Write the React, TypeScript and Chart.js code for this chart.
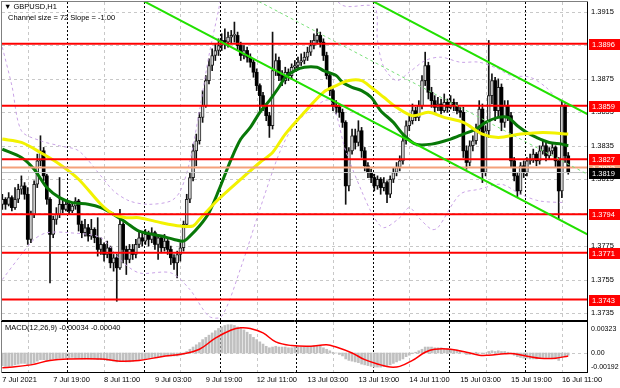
import React, { useEffect, useRef } from "react";
import { Chart, registerables } from "chart.js";
Chart.register(...registerables);

// ---------- DATA (GBPUSD H1, 7 Jul 03:00 .. 16 Jul 13:00) ----------
const openPrices = [
  1.3800,1.3803,1.3800,1.3804,1.3798,1.3803,1.3809,1.3811,1.3806,1.3779,
  1.3794,1.3812,1.3826,1.3832,1.3817,1.3803,1.3782,1.3791,1.3794,1.3800,
  1.3797,1.3800,1.3796,1.3799,1.3802,1.3788,1.3783,1.3786,1.3781,1.3785,
  1.3780,1.3773,1.3776,1.3770,1.3774,1.3765,1.3768,1.3762,1.3788,1.3773,
  1.3767,1.3773,1.3770,1.3776,1.3780,1.3778,1.3782,1.3779,1.3783,1.3776,
  1.3780,1.3774,1.3778,1.3773,1.3768,1.3765,1.3770,1.3774,1.3788,1.3803,
  1.3816,1.3832,1.3838,1.3852,1.3859,1.3874,1.3883,1.3889,1.3892,1.3895,
  1.3898,1.3897,1.3900,1.3901,1.3901,1.3895,1.3889,1.3892,1.3888,1.3885,
  1.3879,1.3871,1.3865,1.3859,1.3853,1.3847,1.3880,1.3886,1.3877,1.3874,
  1.3879,1.3877,1.3882,1.3883,1.3885,1.3886,1.3888,1.3891,1.3895,1.3898,
  1.3901,1.3897,1.3889,1.3877,1.3868,1.3859,1.3858,1.3855,1.3849,1.3811,
  1.3832,1.3841,1.3837,1.3844,1.3832,1.3823,1.3819,1.3816,1.3811,1.3815,
  1.3810,1.3813,1.3806,1.3815,1.3819,1.3822,1.3826,1.3838,1.3847,1.3850,
  1.3856,1.3852,1.3859,1.3874,1.3883,1.3867,1.3862,1.3858,1.3860,1.3856,
  1.3861,1.3858,1.3861,1.3859,1.3856,1.3855,1.3832,1.3825,1.3835,1.3838,
  1.3845,1.3857,1.3819,1.3844,1.3865,1.3874,1.3856,1.3870,1.3849,1.3859,
  1.3853,1.3826,1.3817,1.3808,1.3823,1.3819,1.3826,1.3827,1.3830,1.3826,
  1.3832,1.3835,1.3829,1.3832,1.3834,1.3826,1.3808,1.3859,1.3829,
];
const highPrices = [
  1.3806,1.3804,1.3807,1.3805,1.3810,1.3812,1.3817,1.3813,1.3810,1.3796,
  1.3814,1.3830,1.3841,1.3834,1.3818,1.3804,1.3793,1.3798,1.3816,1.3803,
  1.3802,1.3801,1.3801,1.3804,1.3803,1.3790,1.3791,1.3788,1.3791,1.3786,
  1.3792,1.3780,1.3777,1.3778,1.3775,1.3770,1.3770,1.3797,1.3789,1.3775,
  1.3776,1.3776,1.3779,1.3784,1.3783,1.3785,1.3784,1.3786,1.3784,1.3782,
  1.3781,1.3782,1.3779,1.3775,1.3770,1.3772,1.3777,1.3790,1.3806,1.3819,
  1.3836,1.3842,1.3855,1.3868,1.3877,1.3887,1.3893,1.3896,1.3899,1.3902,
  1.3905,1.3903,1.3904,1.3909,1.3903,1.3897,1.3895,1.3894,1.3890,1.3887,
  1.3881,1.3872,1.3867,1.3860,1.3855,1.3903,1.3890,1.3888,1.3880,1.3882,
  1.3881,1.3884,1.3886,1.3888,1.3890,1.3891,1.3894,1.3898,1.3902,1.3905,
  1.3903,1.3899,1.3891,1.3879,1.3869,1.3862,1.3860,1.3857,1.3850,1.3834,
  1.3845,1.3845,1.3850,1.3846,1.3834,1.3825,1.3821,1.3818,1.3817,1.3816,
  1.3816,1.3814,1.3817,1.3822,1.3825,1.3829,1.3841,1.3850,1.3853,1.3860,
  1.3858,1.3862,1.3877,1.3891,1.3885,1.3870,1.3865,1.3864,1.3863,1.3866,
  1.3863,1.3865,1.3863,1.3861,1.3858,1.3858,1.3835,1.3838,1.3841,1.3848,
  1.3862,1.3860,1.3847,1.3898,1.3878,1.3876,1.3875,1.3872,1.3862,1.3862,
  1.3855,1.3828,1.3819,1.3825,1.3826,1.3828,1.3830,1.3833,1.3831,1.3835,
  1.3838,1.3837,1.3834,1.3837,1.3835,1.3828,1.3862,1.3861,1.3831,
];
const lowPrices = [
  1.3797,1.3797,1.3799,1.3796,1.3797,1.3801,1.3806,1.3803,1.3776,1.3777,
  1.3792,1.3810,1.3823,1.3814,1.3800,1.3753,1.3780,1.3788,1.3792,1.3795,
  1.3796,1.3794,1.3795,1.3797,1.3784,1.3780,1.3781,1.3778,1.3779,1.3777,
  1.3769,1.3770,1.3766,1.3768,1.3762,1.3760,1.3742,1.3761,1.3765,1.3758,
  1.3765,1.3767,1.3768,1.3774,1.3775,1.3776,1.3775,1.3777,1.3773,1.3767,
  1.3771,1.3772,1.3770,1.3764,1.3761,1.3756,1.3766,1.3772,1.3786,1.3801,
  1.3814,1.3823,1.3836,1.3849,1.3858,1.3872,1.3880,1.3886,1.3889,1.3892,
  1.3893,1.3894,1.3896,1.3897,1.3892,1.3886,1.3887,1.3885,1.3882,1.3876,
  1.3868,1.3856,1.3856,1.3850,1.3840,1.3845,1.3877,1.3874,1.3871,1.3872,
  1.3874,1.3875,1.3880,1.3881,1.3883,1.3884,1.3886,1.3889,1.3893,1.3896,
  1.3894,1.3886,1.3875,1.3865,1.3856,1.3854,1.3852,1.3846,1.3800,1.3808,
  1.3830,1.3833,1.3835,1.3828,1.3820,1.3816,1.3813,1.3808,1.3809,1.3806,
  1.3808,1.3801,1.3804,1.3813,1.3817,1.3820,1.3824,1.3836,1.3844,1.3848,
  1.3850,1.3850,1.3857,1.3871,1.3863,1.3858,1.3855,1.3856,1.3854,1.3855,
  1.3855,1.3857,1.3856,1.3854,1.3852,1.3828,1.3821,1.3823,1.3832,1.3836,
  1.3843,1.3813,1.3817,1.3840,1.3860,1.3850,1.3852,1.3844,1.3846,1.3850,
  1.3822,1.3814,1.3804,1.3806,1.3816,1.3817,1.3824,1.3825,1.3823,1.3824,
  1.3830,1.3826,1.3827,1.3830,1.3822,1.3791,1.3804,1.3825,1.3818,
];
const closePrices = [
  1.3803,1.3800,1.3804,1.3798,1.3803,1.3809,1.3811,1.3806,1.3779,1.3794,
  1.3812,1.3826,1.3832,1.3817,1.3803,1.3782,1.3791,1.3794,1.3800,1.3797,
  1.3800,1.3796,1.3799,1.3802,1.3788,1.3783,1.3786,1.3781,1.3785,1.3780,
  1.3773,1.3776,1.3770,1.3774,1.3765,1.3768,1.3762,1.3788,1.3773,1.3767,
  1.3773,1.3770,1.3776,1.3780,1.3778,1.3782,1.3779,1.3783,1.3776,1.3780,
  1.3774,1.3778,1.3773,1.3768,1.3765,1.3770,1.3774,1.3788,1.3803,1.3816,
  1.3832,1.3838,1.3852,1.3859,1.3874,1.3883,1.3889,1.3892,1.3895,1.3898,
  1.3897,1.3900,1.3901,1.3901,1.3895,1.3889,1.3892,1.3888,1.3885,1.3879,
  1.3871,1.3865,1.3859,1.3853,1.3847,1.3880,1.3886,1.3877,1.3874,1.3879,
  1.3877,1.3882,1.3883,1.3885,1.3886,1.3888,1.3891,1.3895,1.3898,1.3901,
  1.3897,1.3889,1.3877,1.3868,1.3859,1.3858,1.3855,1.3849,1.3811,1.3832,
  1.3841,1.3837,1.3844,1.3832,1.3823,1.3819,1.3816,1.3811,1.3815,1.3810,
  1.3813,1.3806,1.3815,1.3819,1.3822,1.3826,1.3838,1.3847,1.3850,1.3856,
  1.3852,1.3859,1.3874,1.3883,1.3867,1.3862,1.3858,1.3860,1.3856,1.3861,
  1.3858,1.3861,1.3859,1.3856,1.3855,1.3832,1.3825,1.3835,1.3838,1.3845,
  1.3857,1.3819,1.3844,1.3865,1.3874,1.3856,1.3870,1.3849,1.3859,1.3853,
  1.3826,1.3817,1.3808,1.3823,1.3819,1.3826,1.3827,1.3830,1.3826,1.3832,
  1.3835,1.3829,1.3832,1.3834,1.3826,1.3808,1.3859,1.3829,1.3819,
];

// moving averages, sampled (bar index, price)
const maSlowBars = [0,6,12,18,24,31,35,39,43,50,56,60,62,68,75,81,85,89,95,101,105,109,113,116,120,124,129,134,139,145,151,156,163,170,178];
const maSlowValues = [1.3839,1.3837,1.3831,1.3824,1.3815,1.3800,1.3794,1.3792,1.3792,1.3789,1.3787,1.3787,1.3791,1.3803,1.3815,1.3825,1.3831,1.3842,1.3855,1.3867,1.3871,1.3874,1.3874,1.3870,1.3864,1.3858,1.3853,1.3855,1.3852,1.3849,1.3842,1.3840,1.3842,1.3843,1.3842];
const maFastBars = [0,6,10,14,18,22,27,31,35,39,43,50,54,57,59,62,65,68,72,75,78,81,84,87,89,92,95,99,101,105,107,110,113,116,119,123,126,130,135,141,145,149,152,156,159,162,165,168,172,176,178];
const maFastValues = [1.3833,1.3828,1.3821,1.3810,1.3804,1.3801,1.3800,1.3798,1.3794,1.3789,1.3784,1.3781,1.3779,1.3778,1.3781,1.3787,1.3795,1.3808,1.3827,1.3839,1.3846,1.3855,1.3862,1.3870,1.3876,1.3880,1.3882,1.3882,1.3880,1.3877,1.3873,1.3870,1.3868,1.3864,1.3856,1.3849,1.3842,1.3836,1.3836,1.3839,1.3842,1.3845,1.3849,1.3852,1.3852,1.3847,1.3843,1.3840,1.3837,1.3836,1.3835];

// bands (bar index, price)
const bandUpperBars = [0,3,6,12,18,24,31,35,40,46,53,56,59,62,65,68,70,76,90,100,107,117,118,120,124,128,133,138,144,150,156,160,166,171,175,178];
const bandUpperValues = [1.3894,1.3871,1.3844,1.3838,1.3835,1.3832,1.3817,1.3808,1.3802,1.3800,1.3802,1.3808,1.3826,1.3856,1.3889,1.3916,1.3934,1.3950,1.3945,1.3935,1.3919,1.3918,1.3898,1.3882,1.3874,1.3879,1.3886,1.3888,1.3885,1.3885,1.3881,1.3877,1.3876,1.3870,1.3862,1.3859];
const bandLowerBars = [0,6,10,14,21,31,37,43,53,59,65,69,75,81,87,91,96,103,108,113,117,120,125,128,131,135,137,144,150,157,163,169,177];
const bandLowerValues = [1.3755,1.3770,1.3779,1.3783,1.3783,1.3780,1.3767,1.3759,1.3759,1.3749,1.3733,1.3733,1.3762,1.3797,1.3830,1.3845,1.3855,1.3862,1.3832,1.3808,1.3792,1.3786,1.3792,1.3798,1.3792,1.3785,1.3786,1.3806,1.3809,1.3812,1.3806,1.3802,1.3801];

// regression channel (bar index, price) : size 72, slope -1.00
const channelUpper = [[110, 1.3928], [184, 1.3854]];
const channelMiddle = [[74, 1.3928], [184, 1.3818]];
const channelLower = [[38, 1.3928], [184, 1.3782]];

// horizontal levels
const levelValues = [1.3896, 1.3859, 1.3827, 1.3794, 1.3771, 1.3743];
const pendingLevel = 1.3822;
const currentPrice = 1.3819;

// MACD
const macdHist = [
  -0.0017,-0.0018,-0.0018,-0.0017,-0.0016,-0.0015,-0.0014,-0.0014,-0.0016,-0.0015,-0.0013,-0.0011,
  -0.0009,-0.0009,-0.0010,-0.0010,
  -0.0008,-0.0008,-0.0007,-0.0007,-0.0007,-0.0007,-0.0006,-0.0007,-0.0007,-0.0008,-0.0008,-0.0008,-0.0008,-0.0008,-0.0009,-0.0009,-0.0009,-0.0010,-0.0010,
  -0.0011,-0.0012,-0.0011,-0.0011,-0.0012,-0.0012,-0.0011,-0.0010,-0.0009,
  -0.0008,-0.0008,-0.0007,-0.0006,-0.0006,-0.0005,
  -0.0005,-0.0004,-0.0004,-0.0004,-0.0004,-0.0004,-0.0003,-0.0002,
  0.0002,0.0005,0.0008,0.0011,0.0014,
  0.0018,0.0021,0.0024,0.0027,0.0030,
  0.0033,0.0035,0.0037,0.0038,0.0038,0.0037,
  0.0035,0.0033,0.0031,
  0.0028,0.0025,0.0021,0.0018,0.0015,
  0.0012,0.0009,0.0007,0.0008,
  0.0009,0.0008,0.0008,0.0008,0.0007,0.0007,0.0008,0.0008,0.0008,0.0008,0.0009,
  0.0009,0.0010,0.0010,0.0009,0.0007,0.0005,0.0003,
  0.0001,0.0000,-0.0002,-0.0004,
  -0.0008,-0.0010,-0.0011,-0.0012,-0.0013,
  -0.0015,-0.0016,-0.0017,-0.0018,-0.0019,-0.0019,
  -0.0019,-0.0018,-0.0017,-0.0016,-0.0014,
  -0.0012,-0.0010,-0.0008,
  -0.0005,-0.0003,-0.0001,
  0.0001,0.0003,0.0005,
  0.0008,0.0008,0.0008,0.0007,0.0007,0.0007,0.0006,0.0006,
  0.0005,0.0004,0.0004,
  0.0003,0.0000,-0.0002,-0.0002,-0.0001,0.0001,0.0000,
  -0.0001,0.0000,0.0002,0.0003,0.0002,0.0003,0.0002,
  0.0002,0.0001,-0.0001,-0.0003,-0.0005,
  -0.0006,-0.0007,-0.0007,-0.0008,-0.0008,-0.0008,-0.0007,-0.0006,-0.0006,-0.0006,-0.0007,-0.0008,-0.0010,
  -0.0006,-0.0004,-0.0003,
];
const macdSignalBars = [0,9,15,21,31,37,43,50,57,62,67,72,75,78,82,86,91,97,102,105,110,114,119,122,125,129,133,136,141,146,150,153,158,161,166,169,174,178];
const macdSignalValues = [-0.0020,-0.0016,-0.0010,-0.0008,-0.0008,-0.0011,-0.0010,-0.0005,-0.0001,0.0005,0.0020,0.0031,0.0034,0.0033,0.0027,0.0015,0.0010,0.0009,0.0011,0.0008,0.0000,-0.0009,-0.0016,-0.0019,-0.0018,-0.0010,0.0001,0.0005,0.0005,0.0001,-0.0003,-0.0003,-0.0001,-0.0001,-0.0005,-0.0007,-0.0007,-0.0004];

// axes
const priceTicks = [1.3915, 1.3895, 1.3875, 1.3855, 1.3835, 1.3815, 1.3795, 1.3775, 1.3755, 1.3735];
const macdTicks = [0.00323, 0, -0.00192];
const macdTickLabels = ["0.00323", "0.00", "-0.00192"];
const timeLabelBars = [0, 16, 32, 48, 64, 80, 96, 112, 128, 144, 160, 176];
const timeLabels = ["7 Jul 2021", "7 Jul 19:00", "8 Jul 11:00", "9 Jul 03:00", "9 Jul 19:00", "12 Jul 11:00", "13 Jul 03:00", "13 Jul 19:00", "14 Jul 11:00", "15 Jul 03:00", "15 Jul 19:00", "16 Jul 11:00"];
const gridBars = [8, 32, 56, 80, 104, 128, 152, 176];
const daySeparatorBars = [21, 45, 69, 93, 117, 141, 165];

// ---------- VIEW ----------
const X_MIN = -0.1;
const X_MAX = 183.9;
const P_MIN = 1.37308;
const P_MAX = 1.3921;
const M_MIN = -0.00256;
const M_MAX = 0.00417;
const FONT = "'Liberation Sans', Arial, sans-serif";
const AXIS_W = 33;

const pts = (xs: number[], ys: number[]) => xs.map((x, i) => ({ x, y: ys[i] }));
const noPad = (s: any) => { s.paddingTop = 0; s.paddingBottom = 0; s.paddingLeft = 0; s.paddingRight = 0; };

function gridPlugin(hTicks: () => number[], yId: string, topColor: string) {
  return {
    id: "mtgrid",
    beforeDatasetsDraw(chart: any) {
      const { ctx, chartArea: a, scales } = chart;
      const xs = scales.x;
      const ys = scales[yId];
      ctx.save();
      ctx.beginPath();
      ctx.rect(a.left, a.top, a.right - a.left, a.bottom - a.top);
      ctx.clip();
      ctx.lineWidth = 1;
      ctx.strokeStyle = "#c8c8c8";
      ctx.setLineDash([3, 3]);
      for (const v of hTicks()) {
        const y = Math.round(ys.getPixelForValue(v)) + 0.5;
        ctx.beginPath();
        ctx.moveTo(a.left, y);
        ctx.lineTo(a.right, y);
        ctx.stroke();
      }
      for (const b of gridBars) {
        const x = Math.round(xs.getPixelForValue(b)) + 0.5;
        ctx.beginPath();
        ctx.moveTo(x, a.top);
        ctx.lineTo(x, a.bottom);
        ctx.stroke();
      }
      ctx.strokeStyle = "#000000";
      ctx.setLineDash([2, 2]);
      for (const b of daySeparatorBars) {
        const x = Math.round(xs.getPixelForValue(b - 0.5)) + 0.5;
        ctx.beginPath();
        ctx.moveTo(x, a.top);
        ctx.lineTo(x, a.bottom);
        ctx.stroke();
      }
      ctx.restore();
    },
    afterDraw(chart: any) {
      const { ctx, chartArea: a } = chart;
      ctx.save();
      ctx.lineWidth = 1;
      ctx.strokeStyle = "#000";
      ctx.beginPath();
      ctx.moveTo(a.right + 0.5, a.top - 1);
      ctx.lineTo(a.right + 0.5, a.bottom + 1);
      ctx.moveTo(a.left - 1, a.bottom + 0.5);
      ctx.lineTo(a.right + 1, a.bottom + 0.5);
      ctx.stroke();
      ctx.strokeStyle = "#808080";
      ctx.beginPath();
      ctx.moveTo(a.left - 0.5, a.top - 1);
      ctx.lineTo(a.left - 0.5, a.bottom + 1);
      ctx.stroke();
      ctx.strokeStyle = topColor;
      ctx.beginPath();
      ctx.moveTo(a.left - 1, a.top - 0.5);
      ctx.lineTo(a.right + 1, a.top - 0.5);
      ctx.stroke();
      ctx.restore();
    },
  };
}

const priceLabelPlugin = {
  id: "pricelabels",
  afterDraw(chart: any) {
    const { ctx, chartArea: a } = chart;
    const ys = chart.scales.y;
    const boxes: { v: number; bg: string }[] = [
      { v: pendingLevel, bg: "#f4a07a" },
      ...levelValues.map((v) => ({ v, bg: "#ff0000" })),
      { v: currentPrice, bg: "#000000" },
    ];
    ctx.save();
    ctx.font = `7.5px ${FONT}`;
    ctx.textBaseline = "middle";
    for (const b of boxes) {
      const y = Math.round(ys.getPixelForValue(b.v));
      ctx.fillStyle = b.bg;
      ctx.fillRect(a.right + 2, y - 5, 32, 11);
      ctx.fillStyle = "#ffffff";
      ctx.fillText(b.v.toFixed(4), a.right + 5, y + 0.5);
    }
    ctx.restore();
  },
};

export default function App() {
  const mainRef = useRef<HTMLCanvasElement>(null);
  const macdRef = useRef<HTMLCanvasElement>(null);

  useEffect(() => {
    document.body.style.margin = "0";
    const bars = closePrices.map((_, i) => i);
    const wick = bars.map((i) => ({ x: i, y: [lowPrices[i], highPrices[i]] }));
    const bull = bars.filter((i) => closePrices[i] >= openPrices[i]).map((i) => ({ x: i, y: [openPrices[i], closePrices[i]] }));
    const bear = bars.filter((i) => closePrices[i] < openPrices[i]).map((i) => ({ x: i, y: [closePrices[i], openPrices[i]] }));
    const hline = (v: number) => [{ x: X_MIN, y: v }, { x: X_MAX, y: v }];
    const segs = (s: number[][]) => s.map((p) => ({ x: p[0], y: p[1] }));
    const lineBase = { type: "line", pointRadius: 0, fill: false } as any;

    const datasets: any[] = [
      ...levelValues.map((v) => ({ ...lineBase, data: hline(v), borderColor: "#ff0000", borderWidth: 2, order: 3 })),
      { ...lineBase, data: hline(pendingLevel), borderColor: "#f4a07a", borderWidth: 2, order: 3 },
      { ...lineBase, data: hline(currentPrice), borderColor: "#c0c0c0", borderWidth: 1, order: 4 },
      { ...lineBase, data: segs(channelUpper), borderColor: "#22e000", borderWidth: 2, order: 2 },
      { ...lineBase, data: segs(channelLower), borderColor: "#22e000", borderWidth: 2, order: 2 },
      { ...lineBase, data: segs(channelMiddle), borderColor: "#7ae07a", borderWidth: 1, borderDash: [3, 3], order: 2 },
      { ...lineBase, data: pts(bandUpperBars, bandUpperValues), borderColor: "#c9a3e6", borderWidth: 1, borderDash: [3, 3], tension: 0.3, order: 6 },
      { ...lineBase, data: pts(bandLowerBars, bandLowerValues), borderColor: "#c9a3e6", borderWidth: 1, borderDash: [3, 3], tension: 0.3, order: 6 },
      { ...lineBase, data: pts(maSlowBars, maSlowValues), borderColor: "#f2f200", borderWidth: 3, tension: 0.3, order: 5 },
      { ...lineBase, data: pts(maFastBars, maFastValues), borderColor: "#087808", borderWidth: 3, tension: 0.3, order: 5 },
      { type: "bar", data: wick, backgroundColor: "#101010", barThickness: 1, grouped: false, order: 9 },
      { type: "bar", data: bull, backgroundColor: "#d8d8d8", borderColor: "#202020", borderWidth: 1, borderSkipped: false, barThickness: 3, minBarLength: 1, grouped: false, order: 8 },
      { type: "bar", data: bear, backgroundColor: "#000000", barThickness: 3, minBarLength: 1, grouped: false, order: 8 },
    ];

    const main = new Chart(mainRef.current!, {
      type: "bar",
      data: { datasets },
      options: {
        animation: false,
        responsive: false,
        layout: { padding: { left: 2, top: 2, bottom: 2, right: 0 } },
        plugins: { legend: { display: false }, tooltip: { enabled: false } },
        scales: {
          x: { type: "linear", min: X_MIN, max: X_MAX, display: false, offset: false },
          y: {
            position: "right",
            min: P_MIN,
            max: P_MAX,
            grid: { display: false, drawTicks: false, tickLength: 0 },
            border: { display: false },
            afterBuildTicks: (s: any) => { s.ticks = priceTicks.map((v) => ({ value: v })); },
            afterFit: (s: any) => { s.width = AXIS_W; noPad(s); },
            ticks: { padding: 4, color: "#000", font: { family: FONT, size: 7.5 }, callback: (v: any) => Number(v).toFixed(4) },
          },
        },
      } as any,
      plugins: [gridPlugin(() => priceTicks, "y", "#808080"), priceLabelPlugin],
    });

    const macd = new Chart(macdRef.current!, {
      type: "bar",
      data: {
        datasets: [
          { type: "line", data: pts(macdSignalBars, macdSignalValues), borderColor: "#ff0000", borderWidth: 1.5, pointRadius: 0, tension: 0.4, order: 1 },
          { type: "bar", data: bars.map((i) => ({ x: i, y: macdHist[i] })), backgroundColor: "#c0c0c0", barThickness: 2, grouped: false, order: 2 },
        ] as any,
      },
      options: {
        animation: false,
        responsive: false,
        layout: { padding: { left: 2, top: 2, bottom: 0, right: 0 } },
        plugins: { legend: { display: false }, tooltip: { enabled: false } },
        scales: {
          x: {
            type: "linear",
            min: X_MIN,
            max: X_MAX,
            offset: false,
            grid: { display: false, drawTicks: false, tickLength: 0 },
            border: { display: false },
            afterBuildTicks: (s: any) => { s.ticks = timeLabelBars.map((v) => ({ value: v })); },
            afterFit: (s: any) => { s.height = 16; noPad(s); },
            ticks: {
              autoSkip: false,
              maxRotation: 0,
              align: "start",
              padding: 3,
              color: "#000",
              font: { family: FONT, size: 7.5 },
              callback: (_v: any, i: number) => timeLabels[i],
            },
          },
          y: {
            position: "right",
            min: M_MIN,
            max: M_MAX,
            grid: { display: false, drawTicks: false, tickLength: 0 },
            border: { display: false },
            afterBuildTicks: (s: any) => { s.ticks = macdTicks.map((v) => ({ value: v })); },
            afterFit: (s: any) => { s.width = AXIS_W; noPad(s); },
            ticks: { padding: 4, color: "#000", font: { family: FONT, size: 7 }, callback: (_v: any, i: number) => macdTickLabels[i] },
          },
        },
      } as any,
      plugins: [gridPlugin(() => [0], "y", "#000000")],
    });

    return () => {
      main.destroy();
      macd.destroy();
    };
  }, []);

  const txt: React.CSSProperties = { position: "absolute", fontFamily: FONT, fontSize: 7.5, color: "#000", whiteSpace: "nowrap", lineHeight: "10px" };
  return (
    <div style={{ position: "relative", width: 620, height: 388, background: "#fff", overflow: "hidden" }}>
      <canvas ref={mainRef} width={620} height={322} style={{ position: "absolute", left: 0, top: 0 }} />
      <canvas ref={macdRef} width={620} height={68} style={{ position: "absolute", left: 0, top: 320 }} />
      <div style={{ ...txt, left: 4, top: 2 }}>▼ GBPUSD,H1</div>
      <div style={{ ...txt, left: 8, top: 13 }}>Channel size = 72 Slope = -1.00</div>
      <div style={{ ...txt, left: 5, top: 323 }}>MACD(12,26,9) -0.00034 -0.00040</div>
    </div>
  );
}
